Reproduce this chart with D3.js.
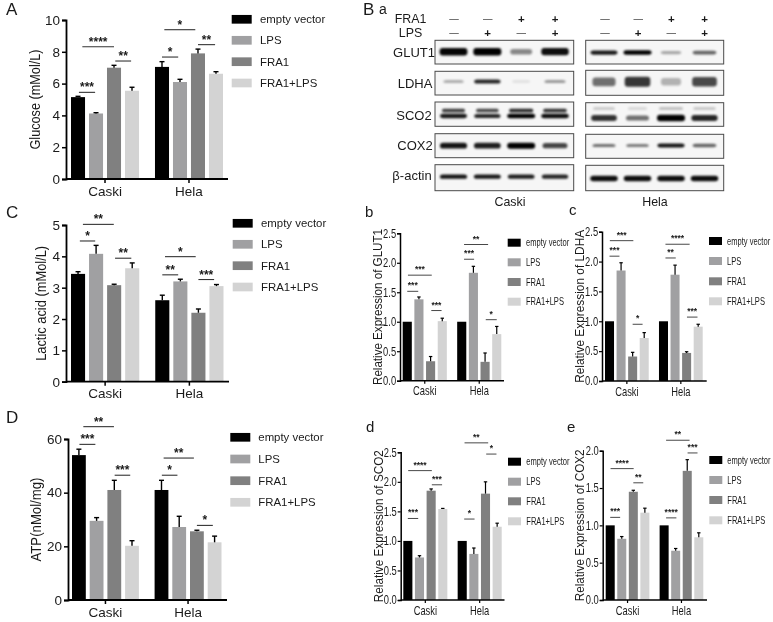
<!DOCTYPE html>
<html><head><meta charset="utf-8">
<script src="https://cdn.jsdelivr.net/npm/d3@7"></script>
<style>html,body{margin:0;padding:0;background:#fff}svg{display:block;filter:blur(.35px)}text{font-family:"Liberation Sans",Arial,sans-serif;fill:#1a1a1a}</style>
</head><body><svg id="c" width="773" height="622"></svg>
<script>
// ---------- data ----------
const groups = ["Caski","Hela"];
const series = ["empty vector","LPS","FRA1","FRA1+LPS"];
const colors = ["#000000","#a0a0a2","#808080","#d3d3d3"];

const glucose    = [5.15,4.12,7.0,5.55, 7.05,6.1,7.9,6.62];
const glucoseErr = [0.05,0.05,0.15,0.22, 0.33,0.17,0.27,0.13];
const lactic     = [3.44,4.08,3.08,3.62, 2.6,3.2,2.2,3.05];
const lacticErr  = [0.07,0.27,0.03,0.17, 0.16,0.07,0.12,0.05];
const atp        = [54,29.5,41,20.2, 41,27.2,25.6,21.5];
const atpErr     = [2.2,1.2,3.6,1.9, 3.6,4,0.4,2.3];
const glut1      = [1,1.38,0.33,1.01, 1,1.83,0.32,0.79];
const glut1Err   = [0,0.04,0.08,0.05, 0,0.11,0.15,0.13];
const ldha       = [1,1.85,0.41,0.72, 1,1.78,0.47,0.91];
const ldhaErr    = [0,0.13,0.07,0.09, 0,0.16,0.02,0.04];
const sco2       = [1,0.72,1.85,1.54, 1,0.78,1.8,1.24];
const sco2Err    = [0,0.03,0.03,0.01, 0,0.1,0.2,0.06];
const cox2       = [1,0.82,1.45,1.17, 1,0.66,1.73,0.84];
const cox2Err    = [0,0.03,0.02,0.06, 0,0.03,0.15,0.06];

// significance: [from bar, to bar, value, label]
const sigA = [[0.05,0.95,5.45,"***"],[0.24,2,8.32,"****"],[2.07,2.95,7.42,"**"],[4,4.9,7.67,"*"],[4.13,5.85,9.39,"*"],[6,6.95,8.45,"**"]];
const sigC = [[0.1,0.95,4.49,"*"],[0.27,1.98,5.02,"**"],[2.05,2.95,3.94,"**"],[4,4.88,3.41,"**"],[4.15,5.85,3.99,"*"],[6,6.87,3.26,"***"]];
const sigD = [[0.03,0.93,58,"***"],[0.25,1.98,64.6,"**"],[2.02,2.9,46.5,"***"],[4.02,4.9,46.5,"*"],[4.12,5.83,52.9,"**"],[6,6.9,27.8,"*"]];
const sigB = [[0,0.94,1.516,"***"],[0.06,2.1,1.79,"***"],[2.06,2.94,1.19,"***"],[4.2,5.06,2.06,"***"],[4.2,6.26,2.31,"**"],[6.06,7,1.035,"*"]];
const sigCc= [[0,0.86,2.09,"***"],[0.03,2.06,2.35,"***"],[2,2.86,0.95,"*"],[4.17,5.06,2.06,"**"],[4.17,6.26,2.29,"****"],[6.03,6.94,1.07,"***"]];
const sigDd= [[0,0.89,1.38,"***"],[0.03,2.06,2.19,"****"],[2.06,2.94,1.95,"***"],[4.17,5.06,1.37,"*"],[4.2,6.23,2.66,"**"],[6.06,6.94,2.47,"*"]];
const sigE = [[0,0.86,1.107,"***"],[0.03,2.03,1.76,"****"],[2,2.86,1.57,"**"],[4.17,5.06,1.10,"****"],[4.17,6.2,2.14,"**"],[6.03,6.89,1.97,"***"]];

// blot band strengths, lane by lane
const fraSigns = ["—","—","+","+"];
const lpsSigns = ["—","+","—","+"];
const glut1Caski = [0.98,1,0.45,0.95];
const glut1Hela  = [0.9,1,0.32,0.6];
const ldhaCaski  = [0.3,0.85,0.1,0.38];
const ldhaHela   = [0.55,0.78,0.28,0.7];
const sco2Caski  = [0.9,0.85,1,0.95];
const sco2Hela   = [0.8,0.55,1,0.85];
const cox2Caski  = [0.92,0.88,1,0.72];
const cox2Hela   = [0.55,0.5,0.92,0.6];
const actinCaski = [0.92,0.9,0.88,0.85];
const actinHela  = [0.95,0.95,0.95,0.95];
const tickA=[0,2,4,6,8,10], tickC=[0,1,2,3,4,5], tickD=[0,20,40,60], tickS=[0,0.5,1,1.5,2,2.5], tickE=[0,0.5,1,1.5,2];

// ---------- layout ----------
const svg = d3.select("#c");
const big = {font:13.5, sx:1, lfont:11.4, lsx:1, swW:20, swH:8.7, cap:5, errW:1.4, sfont:12, sdy:-1, sw:1.1, tick:4, ttW:1.5, tfont:14.5};
const small = {font:12, sx:0.78, lfont:10.5, lsx:0.72, swW:13, swH:8, cap:3.4, errW:1.2, sfont:8.5, sdy:-3, sw:0.9, tick:3, ttW:1.2, tfont:12.5};
const panels = [
 {st:big,  v:glucose,e:glucoseErr,sig:sigA, ticks:tickA,max:10,title:"Glucose (mMol/L)",titleX:35,titleLen:100,axisX:66,axisEnd:228,y0:179,yT:20,bars:[71,223],
  legend:{x:231.7,tx:260,ys:[19.3,40.3,61.7,83]}},
 {st:big,  v:lactic,e:lacticErr,sig:sigC, ticks:tickC,max:5,title:"Lactic acid (mMol/L)",titleX:41,titleLen:115,axisX:66,axisEnd:229,y0:381.7,yT:225,bars:[71,223.5],
  legend:{x:232.7,tx:261,ys:[223.3,244.3,265.7,287]}},
 {st:big,  v:atp,e:atpErr,sig:sigD, ticks:tickD,max:60,title:"ATP(nMol/mg)",titleX:36,titleLen:84,axisX:68,axisEnd:227,y0:600,yT:439,bars:[72,221.5],
  legend:{x:230.3,tx:258.3,ys:[437.3,459,480.7,502.3]}},
 {st:small,v:glut1,e:glut1Err,sig:sigB, ticks:tickS,max:2.5,title:"Relative Expression of GLUT1",titleX:377,titleLen:156,axisX:400,axisEnd:504,y0:380.7,yT:233.3,bars:[402.7,501.3],
  legend:{x:507.7,tx:526,ys:[242.7,262.3,282,301.7]}},
 {st:small,v:ldha,e:ldhaErr,sig:sigCc, ticks:tickS,max:2.5,title:"Relative Expression of LDHA",titleX:579,titleLen:153,axisX:602,axisEnd:706.7,y0:381,yT:231.7,bars:[605,702.7],
  legend:{x:709,tx:727,ys:[241,261,281.3,301.3]}},
 {st:small,v:sco2,e:sco2Err,sig:sigDd, ticks:tickS,max:2.5,title:"Relative Expression of SCO2",titleX:378,titleLen:152,axisX:400.7,axisEnd:504.5,y0:600,yT:452.3,bars:[403.3,501.7],
  legend:{x:508,tx:526.3,ys:[461.7,481.7,501.3,521.3]}},
 {st:small,v:cox2,e:cox2Err,sig:sigE, ticks:tickE,max:2,title:"Relative Expression of COX2",titleX:579,titleLen:152,axisX:602.7,axisEnd:707,y0:600,yT:450.7,bars:[605.7,703.3],
  legend:{x:709.3,tx:727.3,ys:[460,480,500,520.3]}}
];
const fmt1 = d3.format(".1f");

panels.forEach(p=>{
  const s=p.st, g=svg.append("g");
  const y=d3.scaleLinear().domain([0,p.max]).range([p.y0,p.yT]);
  const x0=d3.scaleBand().domain(groups).range(p.bars).paddingInner(0.19);
  const x1=d3.scaleBand().domain(series).range([0,x0.bandwidth()]).paddingInner(0.22);
  const rows=p.v.map((v,i)=>({v,e:p.e[i],g:groups[i>>2],s:series[i%4],c:colors[i%4]}));
  const cx=d=>x0(d.g)+x1(d.s)+x1.bandwidth()/2;
  const centers=rows.map(cx);
  const barPos=d3.scaleLinear().domain(d3.range(8)).range(centers);

  g.selectAll(".bar").data(rows).join("rect")
    .attr("x",d=>x0(d.g)+x1(d.s)).attr("width",x1.bandwidth())
    .attr("y",d=>y(d.v)).attr("height",d=>p.y0-y(d.v)).attr("fill",d=>d.c);
  const er=rows.filter(d=>d.e>0);
  g.selectAll(".ev").data(er).join("line").attr("x1",cx).attr("x2",cx)
    .attr("y1",d=>y(d.v)).attr("y2",d=>y(d.v+d.e)).attr("stroke","#000").attr("stroke-width",s.errW);
  g.selectAll(".ec").data(er).join("line").attr("x1",d=>cx(d)-s.cap/2).attr("x2",d=>cx(d)+s.cap/2)
    .attr("y1",d=>y(d.v+d.e)).attr("y2",d=>y(d.v+d.e)).attr("stroke","#000").attr("stroke-width",s.errW);

  const yAxis=d3.axisLeft(y).tickValues(p.ticks).tickSizeOuter(0).tickSize(s.tick).tickPadding(2)
    .tickFormat(p.max>=5?d3.format("d"):fmt1);
  const ya=g.append("g").attr("transform",`translate(${p.axisX},0)`).call(yAxis);
  const xAxis=d3.axisBottom(x0).tickSize(s.tick).tickPadding(3);
  const xa=g.append("g").attr("transform",`translate(0,${p.y0})`).call(xAxis);
  xa.select(".domain").remove();
  xa.append("line").attr("x1",p.axisX).attr("x2",p.axisEnd).attr("stroke","#000").attr("stroke-width",s.ttW+0.3);
  [ya,xa].forEach(a=>{
    a.selectAll(".tick line").attr("stroke","#000").attr("stroke-width",s.ttW);
    a.selectAll("text").attr("font-size",s.font).attr("font-family","Liberation Sans").attr("fill","#1a1a1a");
  });
  ya.select(".domain").attr("stroke","#000").attr("stroke-width",s.ttW+0.3);
  ya.selectAll("text").attr("transform",`scale(${s.sx},1)`);
  xa.selectAll("text").attr("transform",`scale(${s.sx},1)`);

  g.append("text").text(p.title)
    .attr("transform",`translate(${p.titleX+(s===big?5:4.5)},${(p.y0+p.yT)/2}) rotate(-90)`)
    .attr("text-anchor","middle").attr("font-size",s.tfont)
    .attr("textLength",p.titleLen).attr("lengthAdjust","spacingAndGlyphs");

  p.sig.forEach(([a,b,v,l])=>{
    g.append("line").attr("x1",barPos(a)).attr("x2",barPos(b)).attr("y1",y(v)).attr("y2",y(v))
      .attr("stroke","#333").attr("stroke-width",s.sw);
    g.append("text").text(l).attr("x",(barPos(a)+barPos(b))/2).attr("y",y(v)+s.sdy)
      .attr("text-anchor","middle").attr("font-size",s.sfont).attr("font-weight","bold").attr("fill","#000");
  });

  series.forEach((name,i)=>{
    const yy=p.legend.ys[i];
    g.append("rect").attr("x",p.legend.x).attr("y",yy-s.swH/2).attr("width",s.swW).attr("height",s.swH).attr("fill",colors[i]);
    g.append("text").text(name).attr("font-size",s.lfont)
      .attr("transform",`translate(${p.legend.tx},${yy+s.lfont*0.36}) scale(${s.lsx},1)`);
  });
});

// ---------- panel letters ----------
[["A",6,15,17],["B",363,15,17],["a",379,14,14],["C",6,217.7,17],["D",6,422.7,17],
 ["b",365,217,15],["c",569,214.5,15],["d",366,432,15],["e",567,432,15]]
 .forEach(([t,x,y,f])=>svg.append("text").text(t).attr("x",x).attr("y",y).attr("font-size",f));

// ---------- western blots ----------
const defs=svg.append("defs");
defs.append("filter").attr("id","bl").attr("x","-30%").attr("y","-80%").attr("width","160%").attr("height","260%")
  .append("feGaussianBlur").attr("stdDeviation",1.3);
const blotRows=[
 {label:"GLUT1",ly:56.7,lx:414,c:glut1Caski,h:glut1Hela,box:[[40.3,64],[40.3,64]],by:[51.7,52.6],th:[7.5,4.5]},
 {label:"LDHA",ly:88,lx:415,c:ldhaCaski,h:ldhaHela,box:[[71.3,95],[70.3,95.3]],by:[81.5,81.8],th:[4.5,11]},
 {label:"SCO2",ly:120,lx:414,c:sco2Caski,h:sco2Hela,box:[[102,126.3],[102.7,126.3]],by:[116,118],th:[4.5,6.5],upper:[110.3,108.5]},
 {label:"COX2",ly:150,lx:415,c:cox2Caski,h:cox2Hela,box:[[133.7,157.7],[134.3,158.3]],by:[145.7,145.5],th:[6,4]},
 {label:"β-actin",ly:180,lx:412,c:actinCaski,h:actinHela,box:[[164.7,190.7],[165.3,190.7]],by:[176.7,178.5],th:[4.5,5.5]}
];
const blotCols=[{x:[435,573.7]},{x:[585.7,723.7]}];
const laneC=d3.scalePoint().domain([0,1,2,3]).range([453.5,555]);
const laneH=d3.scalePoint().domain([0,1,2,3]).range([604,704.5]);
const bandW=d3.scaleLinear().domain([0,1]).range([17,28]);
blotRows.forEach(r=>{
  svg.append("text").text(r.label).attr("x",r.lx).attr("y",r.ly).attr("text-anchor","middle").attr("font-size",13);
  [[r.c,laneC,0],[r.h,laneH,1]].forEach(([vals,lane,k])=>{
    const [x1,x2]=blotCols[k].x,[b1,b2]=r.box[k];
    svg.append("rect").attr("x",x1).attr("y",b1).attr("width",x2-x1).attr("height",b2-b1).attr("fill","#f6f6f6");
    const gg=svg.append("g").attr("filter","url(#bl)");
    gg.selectAll("rect").data(vals).join("rect")
      .attr("x",(d,i)=>lane(i)-bandW(d)/2).attr("width",d=>bandW(d))
      .attr("y",d=>r.by[k]-(r.th[k]*(0.55+0.45*d))/2).attr("height",d=>r.th[k]*(0.55+0.45*d))
      .attr("rx",3).attr("fill","#000").attr("opacity",d=>Math.min(1,d));
    if(r.upper){
      gg.selectAll(".u").data(vals).join("rect").attr("class","u")
        .attr("x",(d,i)=>lane(i)-bandW(d)/2+2).attr("width",d=>bandW(d)-4)
        .attr("y",r.upper[k]-1.5).attr("height",k?3:3.4).attr("rx",1.5)
        .attr("fill","#000").attr("opacity",d=>k?d*0.22:d*0.85);
    }
    svg.append("rect").attr("x",x1).attr("y",b1).attr("width",x2-x1).attr("height",b2-b1)
      .attr("fill","none").attr("stroke","#4a4a4a").attr("stroke-width",1);
  });
});
[["FRA1",410.5,22.7,fraSigns,19.2],["LPS",410.5,37,lpsSigns,33]].forEach(([t,x,y,signs,sy])=>{
  svg.append("text").text(t).attr("x",x).attr("y",y).attr("text-anchor","middle").attr("font-size",12.4);
  [d3.scalePoint().domain([0,1,2,3]).range([454,555]),d3.scalePoint().domain([0,1,2,3]).range([605,704.5])].forEach(l=>{
    svg.selectAll(null).data(signs).join("text").text(d=>d)
      .attr("x",(d,i)=>l(i)).attr("y",d=>d==="+"?sy+4:sy+3).attr("text-anchor","middle")
      .attr("font-size",d=>d==="+"?11.5:9.5).attr("font-weight",d=>d==="+"?"bold":"normal");
  });
});
svg.append("text").text("Caski").attr("x",510).attr("y",206).attr("text-anchor","middle").attr("font-size",12.4);
svg.append("text").text("Hela").attr("x",655).attr("y",206).attr("text-anchor","middle").attr("font-size",12.4);
</script></body></html>
